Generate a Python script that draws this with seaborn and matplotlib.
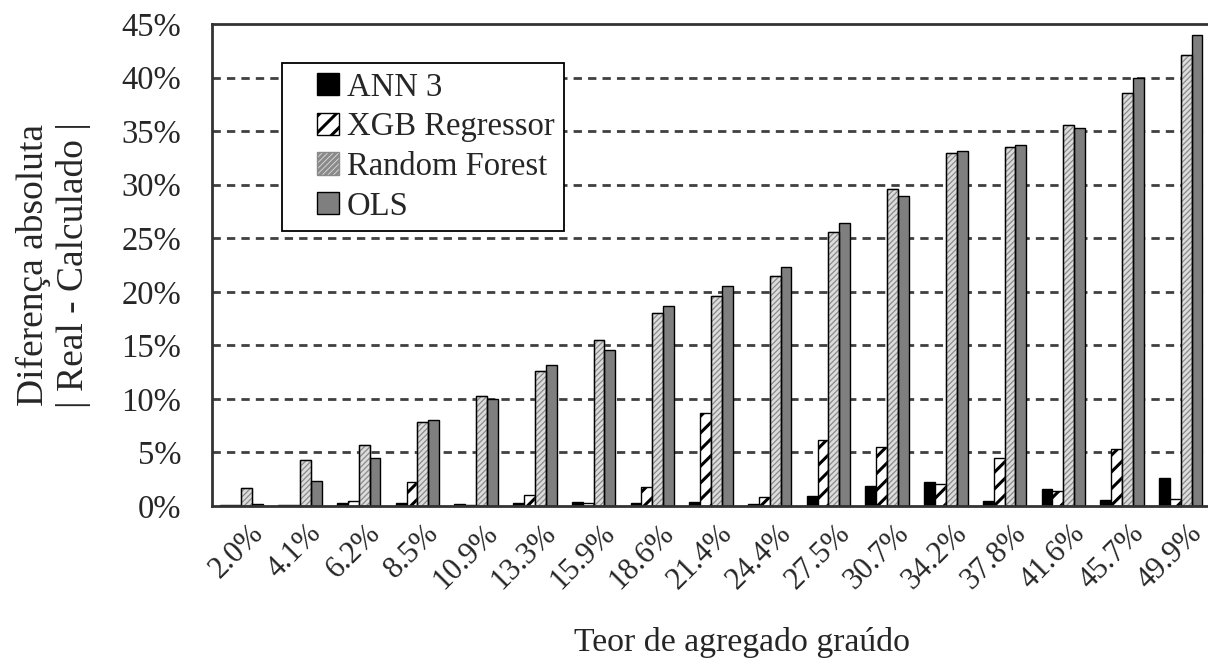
import matplotlib
matplotlib.use("Agg")
import matplotlib.pyplot as plt
import matplotlib.transforms as mtransforms
import seaborn as sns
import pandas as pd
from matplotlib.patches import Rectangle
from matplotlib.legend_handler import HandlerPatch
from matplotlib.ticker import PercentFormatter, FixedLocator

# ---------- data ----------
teor = ['2.0%', '4.1%', '6.2%', '8.5%', '10.9%', '13.3%', '15.9%', '18.6%', '21.4%',
        '24.4%', '27.5%', '30.7%', '34.2%', '37.8%', '41.6%', '45.7%', '49.9%']
models = ['ANN 3', 'XGB Regressor', 'Random Forest', 'OLS']

ann3 = [0.1, 0.1, 0.3, 0.3, 0.2, 0.3, 0.4, 0.3, 0.4, 0.2, 0.9, 1.9, 2.2, 0.5, 1.6, 0.6, 2.6]
xgb = [0.1, 0.1, 0.5, 2.2, 0.1, 1.0, 0.3, 1.8, 8.7, 0.8, 6.2, 5.5, 2.1, 4.5, 1.4, 5.3, 0.7]
rf = [1.7, 4.3, 5.7, 7.8, 10.3, 12.6, 15.5, 18.0, 19.6, 21.5, 25.6, 29.6, 33.0, 33.5, 35.6, 38.6, 42.1]
ols = [0.2, 2.3, 4.5, 8.0, 10.0, 13.2, 14.6, 18.7, 20.5, 22.3, 26.4, 28.9, 33.1, 33.7, 35.3, 40.0, 44.0]

rows = []
for name, vals in zip(models, [ann3, xgb, rf, ols]):
    for t, v in zip(teor, vals):
        rows.append({'teor': t, 'modelo': name, 'diff': v})
df = pd.DataFrame(rows)

# ---------- styling ----------
sns.set_style("white")
plt.rcParams['font.family'] = ['Liberation Serif', 'DejaVu Serif']
plt.rcParams['hatch.linewidth'] = 2.2

face = {'ANN 3': 'black', 'XGB Regressor': 'white', 'Random Forest': '#dcdcdc', 'OLS': '#7f7f7f'}
hatch = {'ANN 3': '', 'XGB Regressor': '//', 'Random Forest': '//////', 'OLS': ''}
hatch_ec = {'ANN 3': 'black', 'XGB Regressor': 'black', 'Random Forest': '#8a8a8a', 'OLS': 'black'}
hatch_lw = {'ANN 3': 1.0, 'XGB Regressor': 2.2, 'Random Forest': 0.9, 'OLS': 1.0}

fig = plt.figure(figsize=(12.08, 6.65), dpi=100)
ax = fig.add_axes([212 / 1208, (665 - 506) / 665, 998 / 1208, 482 / 665])

sns.barplot(data=df, x='teor', y='diff', hue='modelo', order=teor, hue_order=models,
            width=0.74, gap=0, ax=ax, edgecolor='black', linewidth=1.0, legend=False)

for name, cont in zip(models, ax.containers):
    for p in cont:
        p.set_facecolor(face[name])
        p.set_hatch(hatch[name])
        p.set_edgecolor(hatch_ec[name])
        if hasattr(p, 'set_hatch_linewidth'):
            p.set_hatch_linewidth(hatch_lw[name])
        if name == 'Random Forest':
            ax.add_patch(Rectangle(p.get_xy(), p.get_width(), p.get_height(),
                                   fill=False, ec='black', lw=1.0, zorder=p.get_zorder() + 0.1))


# legend: square swatch pushed to the right end of the handle box
def square_patch(legend, orig_handle, xdescent, ydescent, width, height, fontsize):
    side = height * 1.05
    return Rectangle((width - side - xdescent, -ydescent + (height - side) / 2), side, side)


handles = []
for name in models:
    h = Rectangle((0, 0), 1, 1, facecolor=face[name], hatch=hatch[name],
                  edgecolor=hatch_ec[name], lw=1.0)
    if hasattr(h, 'set_hatch_linewidth'):
        h.set_hatch_linewidth(hatch_lw[name] * 0.8)
    handles.append(h)
leg = ax.legend(handles, models, loc='upper left', bbox_to_anchor=(0.0705, 0.919),
                fontsize=23.5, frameon=True, fancybox=False, edgecolor='black',
                handlelength=1.45, handleheight=0.62, handletextpad=0.25,
                labelspacing=0.28, borderpad=0.28, borderaxespad=0, framealpha=1,
                handler_map={Rectangle: HandlerPatch(patch_func=square_patch)})
leg.get_frame().set_linewidth(1.3)

# axes
ax.set_ylim(0, 45)
ax.set_xlim(-0.5, len(teor) - 0.5)
ax.yaxis.set_major_formatter(PercentFormatter(decimals=0))
ax.set_yticks(range(0, 46, 5))
for y in range(5, 45, 5):
    ax.axhline(y, color='#404040', lw=2.0, ls=(0, (3, 2.2)), zorder=0.5)

ax.xaxis.set_minor_locator(FixedLocator([i - 0.5 for i in range(len(teor) + 1)]))
ax.tick_params(axis='x', which='major', length=0, labelsize=22, pad=9)
ax.tick_params(axis='x', which='minor', length=7, width=1.5, direction='out', color='#333333')
ax.tick_params(axis='y', length=9, width=1.3, direction='inout', labelsize=23.5, pad=17.5, color='#333333')
shift = mtransforms.ScaledTranslation(7 / 100, 0, fig.dpi_scale_trans)
for lab in ax.get_xticklabels():
    lab.set_rotation(45)
    lab.set_ha('right')
    lab.set_va('top')
    lab.set_rotation_mode('anchor')
    lab.set_transform(lab.get_transform() + shift)

for s in ['left', 'bottom', 'top']:
    ax.spines[s].set_color('#333333')
    ax.spines[s].set_linewidth(2.0)
ax.spines['right'].set_visible(False)

ax.set_xlabel('Teor de agregado graúdo', fontsize=24.3)
ax.xaxis.set_label_coords(0.531, -0.252)
ax.set_ylabel('Diferença absoluta\n| Real - Calculado |', fontsize=27, linespacing=1.2)
ax.yaxis.set_label_coords(-0.121, 0.5)

fig.savefig('out.png', dpi=100)
